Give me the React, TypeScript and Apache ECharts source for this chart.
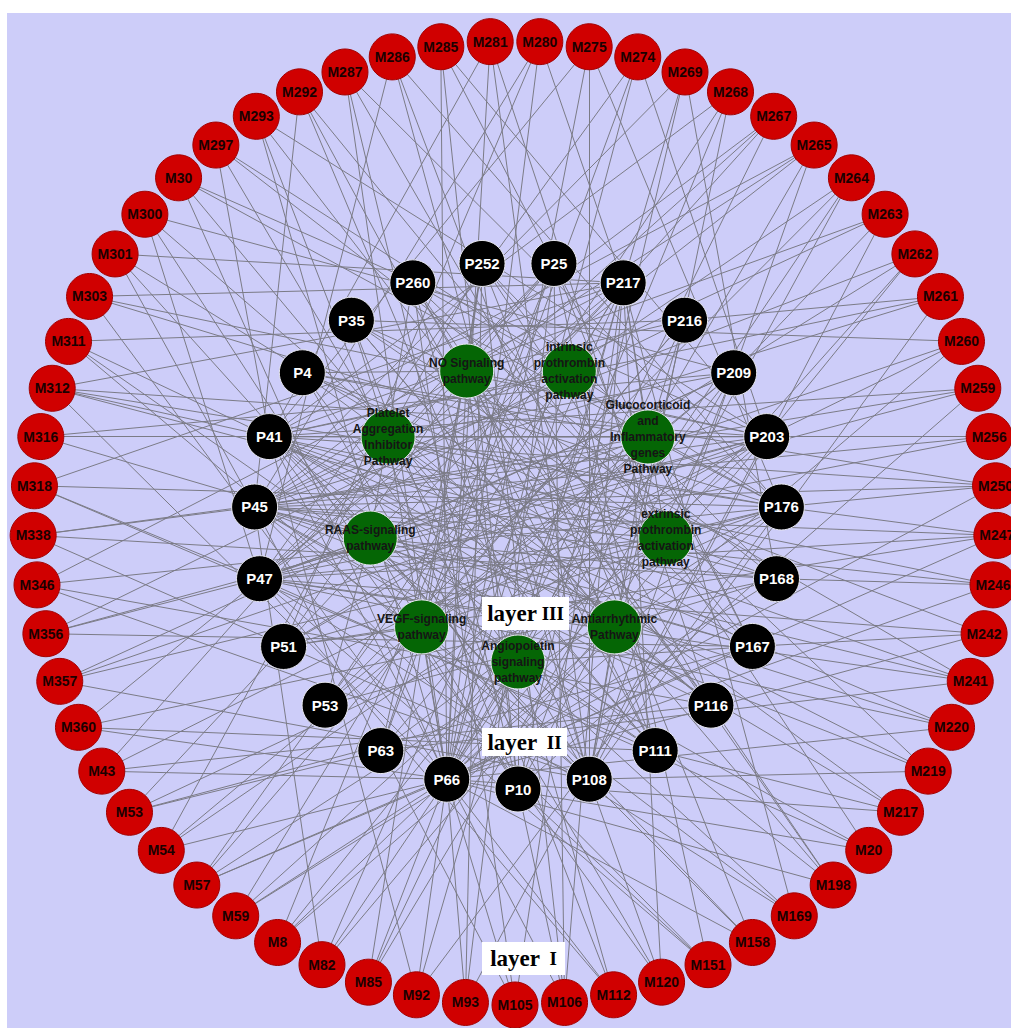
import React, { useEffect, useRef } from "react";
import * as echarts from "echarts";

// Layer I: compounds, clockwise from the top
const compounds = [
  "M280","M275","M274","M269","M268","M267","M265","M264","M263","M262","M261","M260",
  "M259","M256","M250","M247","M246","M242","M241","M220","M219","M217","M20","M198",
  "M169","M158","M151","M120","M112","M106","M105","M93","M92","M85","M82","M8","M59",
  "M57","M54","M53","M43","M360","M357","M356","M346","M338","M318","M316","M312","M311",
  "M303","M301","M300","M30","M297","M293","M292","M287","M286","M285","M281",
];

// Layer II: targets, clockwise from the top
const targets = [
  "P25","P217","P216","P209","P203","P176","P168","P167","P116","P111","P108","P10",
  "P66","P63","P53","P51","P47","P45","P41","P4","P35","P260","P252",
];

// Layer III: pathways, clockwise starting just right of the top
const pathwayIds = ["intrinsic","gluco","extrinsic","antiarr","angio","vegf","raas","platelet","no"];
const pathwayLabels = [
  "intrinsic\nprothrombin\nactivation\npathway",
  "Glucocorticoid\nand\nInflammatory\ngenes\nPathway",
  "extrinsic\nprothrombin\nactivation\npathway",
  "Antiarrhythmic\nPathway",
  "Angiopoietin\nsignaling\npathway",
  "VEGF-signaling\npathway",
  "RAAS-signaling\npathway",
  "Platelet\nAggregation\nInhibitor\nPathway",
  "NO Signaling\npathway",
];

// compound -> target links (same order as compounds)
const compoundLinks = [
  ["P66","P217","P45","P51"],
  ["P108","P41","P176","P66"],
  ["P66","P47","P203","P63"],
  ["P10","P45","P168","P217"],
  ["P66","P41","P108","P53"],
  ["P217","P47","P66","P45"],
  ["P45","P41","P47","P66","P108"],
  ["P66","P47","P10","P53"],
  ["P45","P108","P41","P209"],
  ["P66","P51","P203","P45"],
  ["P41","P45","P108","P216"],
  ["P66","P47","P35","P203"],
  ["P41","P45","P10","P47"],
  ["P203","P47","P41","P45"],
  ["P45","P41","P66","P4","P176"],
  ["P47","P51","P66","P176","P45"],
  ["P41","P45","P168","P66"],
  ["P66","P47","P4","P167"],
  ["P45","P41","P35","P63","P47"],
  ["P66","P47","P41","P45"],
  ["P45","P260","P108","P41"],
  ["P66","P41","P4","P111"],
  ["P47","P45","P252","P66"],
  ["P66","P41","P35","P260","P116"],
  ["P45","P217","P47","P41"],
  ["P41","P252","P66","P108"],
  ["P45","P25","P47","P10"],
  ["P41","P217","P4","P108"],
  ["P35","P260","P47","P66"],
  ["P252","P25","P217","P41","P10"],
  ["P260","P45","P217","P66"],
  ["P25","P252","P203","P66"],
  ["P217","P41","P176","P66"],
  ["P216","P209","P252","P66"],
  ["P203","P217","P45","P66"],
  ["P176","P209","P25","P66"],
  ["P168","P203","P217","P66"],
  ["P167","P176","P216","P53","P66"],
  ["P203","P252","P209","P66"],
  ["P176","P217","P167","P63"],
  ["P116","P203","P25","P66"],
  ["P168","P217","P111","P66"],
  ["P176","P209","P203","P108"],
  ["P203","P167","P216","P47"],
  ["P217","P176","P116","P108"],
  ["P203","P168","P108","P45"],
  ["P176","P217","P111","P47"],
  ["P203","P209","P167","P41"],
  ["P217","P203","P176","P168","P66","P41"],
  ["P216","P111","P108","P41"],
  ["P203","P176","P66","P217"],
  ["P217","P167","P108","P45"],
  ["P209","P116","P10","P47"],
  ["P203","P66","P111","P176"],
  ["P176","P108","P168","P41"],
  ["P66","P116","P10","P203"],
  ["P108","P167","P111","P45"],
  ["P10","P66","P116","P176"],
  ["P108","P111","P176","P47"],
  ["P66","P10","P167","P203"],
  ["P108","P116","P66","P41"],
];

// target -> pathway links (same order as targets)
const targetLinks = [
  ["no","platelet","extrinsic","vegf"],
  ["intrinsic","extrinsic","gluco","raas","angio"],
  ["gluco","antiarr","no","vegf"],
  ["extrinsic","platelet","vegf","raas"],
  ["gluco","raas","platelet","no","vegf"],
  ["extrinsic","vegf","gluco","platelet"],
  ["antiarr","raas","intrinsic","platelet"],
  ["angio","no","gluco","raas"],
  ["antiarr","platelet","raas","no"],
  ["angio","intrinsic","no","platelet"],
  ["antiarr","vegf","no","gluco","raas"],
  ["angio","no","gluco","raas"],
  ["vegf","angio","antiarr","intrinsic","no","platelet"],
  ["vegf","gluco","extrinsic","no"],
  ["raas","antiarr","intrinsic","gluco"],
  ["vegf","gluco","no","extrinsic"],
  ["raas","extrinsic","antiarr","gluco","no"],
  ["raas","platelet","gluco","extrinsic","angio"],
  ["platelet","gluco","intrinsic","antiarr","extrinsic"],
  ["no","extrinsic","angio","gluco"],
  ["no","platelet","antiarr","extrinsic"],
  ["no","intrinsic","raas","antiarr"],
  ["no","intrinsic","gluco","vegf"],
];

const ring = (cx: number, cy: number, r: number, i: number, n: number, offsetDeg: number) => {
  const a = ((offsetDeg + (i * 360) / n) * Math.PI) / 180;
  return [cx + r * Math.sin(a), cy - r * Math.cos(a)];
};

export default function App() {
  const ref = useRef<HTMLDivElement>(null);
  useEffect(() => {
    if (!ref.current) return;
    const chart = echarts.init(ref.current, null, { renderer: "svg" });

    const nodes: any[] = [];
    compounds.forEach((name, i) => {
      nodes.push({
        id: name,
        name,
        value: ring(515, 523, 482, i, compounds.length, 180 / compounds.length),
        symbolSize: 46,
        itemStyle: { color: "#d00000", borderColor: "#a30000", borderWidth: 1 },
        label: {
          show: true,
          position: "inside",
          color: "#1a0000",
          fontSize: 14,
          fontWeight: "bold",
          fontFamily: "Liberation Sans, Arial, sans-serif",
        },
      });
    });
    targets.forEach((name, i) => {
      nodes.push({
        id: name,
        name,
        value: ring(518, 525, 264, i, targets.length, 180 / targets.length),
        symbolSize: 46,
        itemStyle: { color: "#000000", borderColor: "#e8e8f0", borderWidth: 1 },
        label: {
          show: true,
          position: "inside",
          color: "#ffffff",
          fontSize: 15,
          fontWeight: "bold",
          fontFamily: "Liberation Sans, Arial, sans-serif",
        },
      });
    });
    pathwayIds.forEach((id, i) => {
      nodes.push({
        id,
        name: pathwayLabels[i],
        value: ring(518, 512, 150, i, pathwayIds.length, 20),
        symbolSize: 54,
        itemStyle: { color: "#056605", borderColor: "#e8e8f0", borderWidth: 1 },
        label: {
          show: true,
          position: "inside",
          color: "#151515",
          fontSize: 12,
          lineHeight: 16,
          fontWeight: "bold",
          fontFamily: "Liberation Sans, Arial, sans-serif",
        },
      });
    });

    const links: any[] = [];
    compoundLinks.forEach((ts, i) => ts.forEach((t) => links.push({ source: compounds[i], target: t })));
    targetLinks.forEach((ps, i) => ps.forEach((p) => links.push({ source: targets[i], target: p })));

    const layerText = (t: string, roman: string, x: number, y: number, w: number, h: number) => [
      { type: "rect", z: 100, shape: { x, y, width: w, height: h }, style: { fill: "#ffffff" } },
      {
        type: "text",
        z: 101,
        x: x + w / 2,
        y: y + h / 2,
        style: {
          text: `{a|${t}}{b|${roman}}`,
          align: "center",
          verticalAlign: "middle",
          rich: {
            a: { font: "bold 23px 'Liberation Serif', 'Times New Roman', serif", fill: "#000" },
            b: { font: "bold 19px 'Liberation Serif', 'Times New Roman', serif", fill: "#000" },
          },
        },
      },
    ];

    chart.setOption({
      animation: false,
      backgroundColor: "#ffffff",
      grid: { left: 0, right: 0, top: 0, bottom: 0, containLabel: false },
      xAxis: { type: "value", min: 0, max: 1011, show: false },
      yAxis: { type: "value", min: 0, max: 1028, inverse: true, show: false },
      graphic: [
        { type: "rect", z: -10, shape: { x: 7, y: 13, width: 1004, height: 1015 }, style: { fill: "#cdcdf9" } },
        ...layerText("layer", " III", 482, 597, 87, 33),
        ...layerText("layer", "  II", 482, 728, 85, 28),
        ...layerText("layer", "  I", 482, 942, 83, 33),
      ],
      series: [
        {
          type: "graph",
          coordinateSystem: "cartesian2d",
          layout: "none",
          xAxisIndex: 0,
          yAxisIndex: 0,
          symbol: "circle",
          data: nodes,
          links,
          emphasis: { disabled: true },
          lineStyle: { color: "#7b7b86", width: 1, opacity: 1, curveness: 0 },
          z: 2,
        },
      ],
    });
    return () => chart.dispose();
  }, []);
  return (
    <div
      ref={ref}
      style={{ position: "absolute", left: 0, top: 0, width: 1011, height: 1028 }}
    />
  );
}
